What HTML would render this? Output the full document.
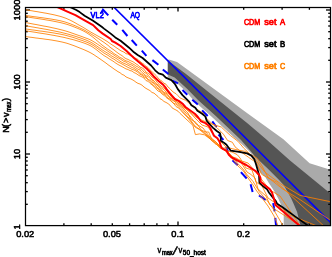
<!DOCTYPE html>
<html><head><meta charset="utf-8"><title>chart</title>
<style>html,body{margin:0;padding:0;background:#fff;font-family:"Liberation Sans",sans-serif}svg{display:block}</style></head>
<body>
<svg width="332" height="257" viewBox="0 0 332 257" style="display:block;will-change:transform">
<defs><clipPath id="c"><rect x="25.5" y="7.5" width="305.0" height="218.1"/></clipPath></defs>
<rect width="332" height="257" fill="#fff"/>
<g clip-path="url(#c)">
<polygon fill="#aaaaaa" points="167.8,59.8 169.7,59.8 177.0,62.1 186.0,68.4 248.0,113.7 283.4,139.2 309.6,163.3 328.0,168.9 330.5,169.3 330.5,226.0 283.7,226.0 283.7,210.5 279.5,201.5 278.5,199.0 274.0,190.8 269.0,183.2 265.2,176.9 262.0,174.0 259.5,171.5 257.5,168.0 255.5,161.0 252.7,155.1 248.0,150.0 241.4,143.8 233.6,136.9 211.4,116.6 193.6,100.6 186.6,92.0 174.2,80.6 167.8,77.2"/>
<polygon fill="#555555" points="167.8,60.5 186.0,74.1 248.0,123.8 267.0,140.0 290.0,160.5 326.7,190.4 330.5,193.5 330.5,226.0 300.6,226.0 297.1,212.0 293.6,203.8 291.0,198.0 287.1,191.1 283.7,185.1 278.6,179.5 267.1,168.0 255.3,156.8 249.7,150.0 241.0,140.0 215.8,116.0 198.0,100.0 187.3,88.9 174.7,77.5 167.8,74.6"/>
</g>
<g stroke="#000" stroke-width="1.3"><line x1="63.9" y1="225.6" x2="63.9" y2="223.3"/>
<line x1="63.9" y1="7.5" x2="63.9" y2="9.8"/>
<line x1="91.2" y1="225.6" x2="91.2" y2="223.3"/>
<line x1="91.2" y1="7.5" x2="91.2" y2="9.8"/>
<line x1="112.3" y1="225.6" x2="112.3" y2="223.3"/>
<line x1="112.3" y1="7.5" x2="112.3" y2="9.8"/>
<line x1="129.6" y1="225.6" x2="129.6" y2="223.3"/>
<line x1="129.6" y1="7.5" x2="129.6" y2="9.8"/>
<line x1="144.2" y1="225.6" x2="144.2" y2="223.3"/>
<line x1="144.2" y1="7.5" x2="144.2" y2="9.8"/>
<line x1="156.9" y1="225.6" x2="156.9" y2="223.3"/>
<line x1="156.9" y1="7.5" x2="156.9" y2="9.8"/>
<line x1="168.0" y1="225.6" x2="168.0" y2="223.3"/>
<line x1="168.0" y1="7.5" x2="168.0" y2="9.8"/>
<line x1="178.0" y1="225.6" x2="178.0" y2="221.6"/>
<line x1="178.0" y1="7.5" x2="178.0" y2="11.5"/>
<line x1="243.7" y1="225.6" x2="243.7" y2="223.3"/>
<line x1="243.7" y1="7.5" x2="243.7" y2="9.8"/>
<line x1="282.1" y1="225.6" x2="282.1" y2="223.3"/>
<line x1="282.1" y1="7.5" x2="282.1" y2="9.8"/>
<line x1="309.4" y1="225.6" x2="309.4" y2="223.3"/>
<line x1="309.4" y1="7.5" x2="309.4" y2="9.8"/>
<line x1="25.5" y1="204.3" x2="27.8" y2="204.3"/>
<line x1="330.5" y1="204.3" x2="328.2" y2="204.3"/>
<line x1="25.5" y1="191.6" x2="27.8" y2="191.6"/>
<line x1="330.5" y1="191.6" x2="328.2" y2="191.6"/>
<line x1="25.5" y1="182.7" x2="27.8" y2="182.7"/>
<line x1="330.5" y1="182.7" x2="328.2" y2="182.7"/>
<line x1="25.5" y1="175.7" x2="27.8" y2="175.7"/>
<line x1="330.5" y1="175.7" x2="328.2" y2="175.7"/>
<line x1="25.5" y1="170.0" x2="27.8" y2="170.0"/>
<line x1="330.5" y1="170.0" x2="328.2" y2="170.0"/>
<line x1="25.5" y1="165.2" x2="27.8" y2="165.2"/>
<line x1="330.5" y1="165.2" x2="328.2" y2="165.2"/>
<line x1="25.5" y1="161.0" x2="27.8" y2="161.0"/>
<line x1="330.5" y1="161.0" x2="328.2" y2="161.0"/>
<line x1="25.5" y1="157.3" x2="27.8" y2="157.3"/>
<line x1="330.5" y1="157.3" x2="328.2" y2="157.3"/>
<line x1="25.5" y1="154.0" x2="30.0" y2="154.0"/>
<line x1="330.5" y1="154.0" x2="326.0" y2="154.0"/>
<line x1="25.5" y1="132.3" x2="27.8" y2="132.3"/>
<line x1="330.5" y1="132.3" x2="328.2" y2="132.3"/>
<line x1="25.5" y1="119.6" x2="27.8" y2="119.6"/>
<line x1="330.5" y1="119.6" x2="328.2" y2="119.6"/>
<line x1="25.5" y1="110.7" x2="27.8" y2="110.7"/>
<line x1="330.5" y1="110.7" x2="328.2" y2="110.7"/>
<line x1="25.5" y1="103.7" x2="27.8" y2="103.7"/>
<line x1="330.5" y1="103.7" x2="328.2" y2="103.7"/>
<line x1="25.5" y1="98.0" x2="27.8" y2="98.0"/>
<line x1="330.5" y1="98.0" x2="328.2" y2="98.0"/>
<line x1="25.5" y1="93.2" x2="27.8" y2="93.2"/>
<line x1="330.5" y1="93.2" x2="328.2" y2="93.2"/>
<line x1="25.5" y1="89.0" x2="27.8" y2="89.0"/>
<line x1="330.5" y1="89.0" x2="328.2" y2="89.0"/>
<line x1="25.5" y1="85.3" x2="27.8" y2="85.3"/>
<line x1="330.5" y1="85.3" x2="328.2" y2="85.3"/>
<line x1="25.5" y1="82.0" x2="30.0" y2="82.0"/>
<line x1="330.5" y1="82.0" x2="326.0" y2="82.0"/>
<line x1="25.5" y1="60.3" x2="27.8" y2="60.3"/>
<line x1="330.5" y1="60.3" x2="328.2" y2="60.3"/>
<line x1="25.5" y1="47.6" x2="27.8" y2="47.6"/>
<line x1="330.5" y1="47.6" x2="328.2" y2="47.6"/>
<line x1="25.5" y1="38.7" x2="27.8" y2="38.7"/>
<line x1="330.5" y1="38.7" x2="328.2" y2="38.7"/>
<line x1="25.5" y1="31.7" x2="27.8" y2="31.7"/>
<line x1="330.5" y1="31.7" x2="328.2" y2="31.7"/>
<line x1="25.5" y1="26.0" x2="27.8" y2="26.0"/>
<line x1="330.5" y1="26.0" x2="328.2" y2="26.0"/>
<line x1="25.5" y1="21.2" x2="27.8" y2="21.2"/>
<line x1="330.5" y1="21.2" x2="328.2" y2="21.2"/>
<line x1="25.5" y1="17.0" x2="27.8" y2="17.0"/>
<line x1="330.5" y1="17.0" x2="328.2" y2="17.0"/>
<line x1="25.5" y1="13.3" x2="27.8" y2="13.3"/>
<line x1="330.5" y1="13.3" x2="328.2" y2="13.3"/>
<line x1="25.5" y1="10.0" x2="30.0" y2="10.0"/>
<line x1="330.5" y1="10.0" x2="326.0" y2="10.0"/></g>
<g clip-path="url(#c)">
<g stroke="#0000ff" stroke-width="2" stroke-linecap="butt">
<polyline fill="none" stroke-linejoin="miter" points="101,13.3 103,9.7 108.3,15.4"/>
<line x1="112.2" y1="19.7" x2="117.2" y2="24.8"/>
<line x1="122.3" y1="29.8" x2="127.4" y2="36.0"/>
<line x1="131.7" y1="40.0" x2="136.8" y2="45.6"/>
<line x1="141.8" y1="50.6" x2="146.4" y2="55.9"/>
<line x1="152.4" y1="60.1" x2="158.4" y2="64.8"/>
<line x1="162.8" y1="69.4" x2="168.4" y2="74.1"/>
<line x1="172.3" y1="80.6" x2="178.0" y2="83.3"/>
<line x1="182.5" y1="90.0" x2="187.3" y2="94.7"/>
<line x1="192.3" y1="99.7" x2="197.8" y2="104.4"/>
<line x1="202.1" y1="110.4" x2="207.7" y2="116.0"/>
<line x1="212.3" y1="121.4" x2="216.5" y2="127.0"/>
<line x1="218.5" y1="134.5" x2="223.4" y2="140.0"/>
<line x1="226.2" y1="147.0" x2="228.0" y2="151.5"/>
<line x1="232.5" y1="160.3" x2="237.8" y2="165.3"/>
<line x1="240.9" y1="172.1" x2="246.7" y2="178.5"/>
<line x1="250.6" y1="184.3" x2="252.6" y2="191.9"/>
<line x1="259.0" y1="195.4" x2="265.7" y2="200.0"/>
<line x1="273.2" y1="203.2" x2="274.6" y2="211.4"/>
<line x1="275.3" y1="217.8" x2="276.1" y2="226.5"/>
</g>
<line x1="110.0" y1="3.3" x2="332.0" y2="223.8" stroke="#0000ff" stroke-width="1.6"/>
<polyline fill="none" stroke="#ff8000" stroke-width="0.85" stroke-linejoin="round" points="26.0,9.7 28.0,10.1 30.0,10.5 32.0,10.8 34.0,11.2 36.0,11.5 38.0,11.8 40.0,12.2 42.0,12.5 44.0,12.9 46.0,13.2 48.0,13.6 50.0,14.0 52.0,14.4 54.0,14.8 56.0,15.3 58.0,15.8 60.0,16.3 62.0,16.9 64.0,17.6 66.0,18.3 68.0,19.2 70.0,20.1 72.0,21.1 74.0,22.2 76.0,23.3 78.0,24.5 80.0,25.6 82.0,26.7 84.0,27.9 86.0,29.1 88.0,30.4 90.0,31.6 92.0,32.8 94.0,33.9 96.0,35.0 98.0,36.1 100.0,37.2 102.0,38.3 104.0,39.5 106.0,40.7 108.0,42.0 110.0,43.5 112.0,44.8 114.0,46.0 116.0,47.5 118.0,48.8 120.0,50.2 122.0,51.3 124.0,52.1 126.0,53.7 128.0,54.0 130.0,55.3 132.0,56.7 134.0,57.2 136.0,58.6 138.0,59.4 140.0,61.4 142.0,63.0 144.0,64.3 146.0,66.4 148.0,67.5 150.0,69.9 152.0,71.7 154.0,73.6 156.0,75.4 158.0,77.9 160.0,80.0 162.0,81.2 164.0,83.3 166.0,84.2 168.0,87.0 170.0,88.7 172.0,91.0 174.0,92.6 176.0,93.7 178.0,95.7 180.0,97.9 182.0,98.8 185.9,100.4 190.0,104.0 192.9,105.6 198.0,110.0 203.1,113.0 206.5,118.3 211.0,122.7 217.0,127.8 223.4,134.2 227.6,140.5 232.4,142.3 235.0,146.8 241.7,152.3 248.7,157.4 253.5,160.7 256.0,162.0 261.6,174.3 272.0,180.0 276.3,182.0 300.0,204.0 323.4,225.6"/>
<polyline fill="none" stroke="#ff8000" stroke-width="0.85" stroke-linejoin="round" points="26.0,15.5 28.0,15.8 30.0,16.1 32.0,16.4 34.0,16.7 36.0,16.9 38.0,17.2 40.0,17.5 42.0,17.7 44.0,18.0 46.0,18.3 48.0,18.6 50.0,18.9 52.0,19.2 54.0,19.6 56.0,19.9 58.0,20.3 60.0,20.7 62.0,21.2 64.0,21.7 66.0,22.3 68.0,23.0 70.0,23.7 72.0,24.5 74.0,25.3 76.0,26.1 78.0,27.0 80.0,28.0 82.0,28.9 84.0,29.9 86.0,31.0 88.0,32.2 90.0,33.4 92.0,34.6 94.0,35.9 96.0,37.1 98.0,38.4 100.0,39.7 102.0,41.1 104.0,42.4 106.0,43.9 108.0,45.3 110.0,47.2 112.0,48.6 114.0,50.0 116.0,51.6 118.0,53.1 120.0,54.5 122.0,55.6 124.0,57.4 126.0,58.7 128.0,59.4 130.0,60.5 132.0,61.3 134.0,62.4 136.0,63.9 138.0,65.1 140.0,67.1 142.0,67.8 144.0,69.2 146.0,72.1 148.0,73.3 150.0,74.7 152.0,77.1 154.0,78.3 156.0,80.9 158.0,83.4 160.0,85.2 162.0,86.8 164.0,88.0 166.0,90.0 168.0,91.5 170.0,94.2 172.0,95.7 174.0,97.9 176.0,99.1 178.0,100.8 180.0,103.5 182.0,105.6 187.1,109.8 190.0,112.0 196.0,117.0 201.0,119.8 204.0,121.0 207.2,122.6 212.0,124.0 218.0,126.0 221.3,127.0 225.5,131.0 230.4,135.5 238.2,141.5 243.5,147.9 249.6,153.8 257.2,158.4 262.0,166.0 268.0,177.4 282.7,189.0 300.0,199.6 330.0,220.0"/>
<polyline fill="none" stroke="#ff8000" stroke-width="0.85" stroke-linejoin="round" points="26.0,16.7 28.0,17.0 30.0,17.4 32.0,17.7 34.0,18.0 36.0,18.3 38.0,18.6 40.0,18.9 42.0,19.2 44.0,19.5 46.0,19.9 48.0,20.2 50.0,20.5 52.0,20.9 54.0,21.3 56.0,21.7 58.0,22.1 60.0,22.5 62.0,23.0 64.0,23.5 66.0,24.1 68.0,24.7 70.0,25.4 72.0,26.1 74.0,26.9 76.0,27.7 78.0,28.5 80.0,29.4 82.0,30.3 84.0,31.3 86.0,32.4 88.0,33.7 90.0,35.0 92.0,36.5 94.0,38.1 96.0,39.8 98.0,41.5 100.0,43.3 102.0,45.0 104.0,46.5 106.0,47.9 108.0,49.4 110.0,50.6 112.0,51.9 114.0,53.6 116.0,54.8 118.0,56.0 120.0,57.5 122.0,58.3 124.0,59.8 126.0,60.9 128.0,61.4 130.0,62.5 132.0,63.6 134.0,64.6 136.0,66.1 138.0,67.0 140.0,68.5 142.0,69.6 144.0,72.2 146.0,73.2 148.0,75.1 150.0,77.2 152.0,79.6 154.0,80.8 156.0,83.5 158.0,84.8 160.0,86.7 162.0,88.5 164.0,89.6 166.0,92.0 168.0,93.3 170.0,94.8 172.0,97.7 174.0,98.6 176.0,100.7 178.0,102.8 180.0,104.3 182.0,105.8 189.0,111.5 196.0,119.0 202.0,125.0 208.0,127.0 213.0,134.0 220.0,141.0 226.0,147.0 232.1,148.7 238.0,150.0 245.4,151.4 251.0,155.3 256.5,160.8 261.6,168.0 264.8,172.0 270.0,176.0 280.6,183.8 300.0,195.4 330.0,201.6"/>
<polyline fill="none" stroke="#ff8000" stroke-width="0.85" stroke-linejoin="round" points="26.0,22.6 28.0,23.0 30.0,23.4 32.0,23.8 34.0,24.2 36.0,24.5 38.0,24.9 40.0,25.3 42.0,25.7 44.0,26.1 46.0,26.4 48.0,26.8 50.0,27.2 52.0,27.7 54.0,28.1 56.0,28.5 58.0,29.0 60.0,29.5 62.0,30.0 64.0,30.5 66.0,31.1 68.0,31.7 70.0,32.4 72.0,33.1 74.0,33.8 76.0,34.5 78.0,35.2 80.0,35.9 82.0,36.6 84.0,37.4 86.0,38.1 88.0,38.8 90.0,39.7 92.0,40.7 94.0,41.9 96.0,43.1 98.0,44.5 100.0,45.8 102.0,47.3 104.0,48.5 106.0,49.8 108.0,51.3 110.0,52.6 112.0,53.7 114.0,55.1 116.0,56.5 118.0,57.7 120.0,58.8 122.0,60.1 124.0,61.5 126.0,62.0 128.0,63.5 130.0,64.5 132.0,65.2 134.0,66.6 136.0,68.0 138.0,69.2 140.0,70.0 142.0,72.5 144.0,73.9 146.0,75.8 148.0,76.5 150.0,78.5 152.0,80.1 154.0,83.0 156.0,84.2 158.0,85.9 160.0,88.1 162.0,90.6 164.0,92.2 166.0,93.1 168.0,94.7 170.0,97.5 172.0,98.7 174.0,100.6 176.0,101.5 178.0,103.1 180.0,105.7 182.0,107.1 188.0,113.0 190.7,119.2 196.0,122.5 201.3,130.0 205.4,132.0 208.7,132.0 211.8,139.4 218.0,146.0 220.8,148.1 226.0,148.0 229.7,155.2 236.0,160.0 240.0,161.0 247.0,172.0 250.9,174.5 255.0,178.0 258.0,189.0 266.0,196.0 270.0,205.0 276.0,210.0 300.0,225.6"/>
<polyline fill="none" stroke="#ff8000" stroke-width="0.85" stroke-linejoin="round" points="26.0,25.8 28.0,26.2 30.0,26.5 32.0,26.9 34.0,27.2 36.0,27.6 38.0,27.9 40.0,28.3 42.0,28.6 44.0,29.0 46.0,29.3 48.0,29.7 50.0,30.1 52.0,30.5 54.0,30.9 56.0,31.3 58.0,31.7 60.0,32.1 62.0,32.6 64.0,33.1 66.0,33.6 68.0,34.1 70.0,34.7 72.0,35.3 74.0,35.9 76.0,36.5 78.0,37.2 80.0,37.8 82.0,38.5 84.0,39.3 86.0,40.0 88.0,40.9 90.0,41.8 92.0,42.9 94.0,44.1 96.0,45.5 98.0,46.9 100.0,48.3 102.0,49.7 104.0,51.0 106.0,52.2 108.0,53.4 110.0,54.7 112.0,56.2 114.0,57.2 116.0,58.4 118.0,59.6 120.0,61.2 122.0,62.4 124.0,63.4 126.0,64.2 128.0,65.2 130.0,66.3 132.0,67.5 134.0,68.3 136.0,69.8 138.0,70.8 140.0,72.9 142.0,74.4 144.0,75.4 146.0,76.7 148.0,79.4 150.0,80.3 152.0,82.2 154.0,83.5 156.0,85.9 158.0,87.9 160.0,89.8 162.0,91.1 164.0,93.2 166.0,94.2 168.0,96.3 170.0,97.8 172.0,99.9 174.0,101.1 176.0,102.7 178.0,104.8 180.0,106.4 182.0,108.6 186.1,113.1 190.0,116.0 196.0,124.0 203.0,128.0 209.0,136.0 216.0,142.0 222.0,149.0 227.5,151.2 232.0,152.0 237.1,154.6 240.0,158.0 246.0,168.0 252.0,170.0 256.0,182.0 262.0,186.0 268.0,198.0 274.0,202.0 290.0,215.0 316.0,225.6"/>
<polyline fill="none" stroke="#ff8000" stroke-width="0.85" stroke-linejoin="round" points="26.0,29.0 28.0,29.3 30.0,29.6 32.0,29.9 34.0,30.1 36.0,30.4 38.0,30.7 40.0,31.0 42.0,31.2 44.0,31.5 46.0,31.8 48.0,32.1 50.0,32.4 52.0,32.7 54.0,33.0 56.0,33.4 58.0,33.7 60.0,34.1 62.0,34.5 64.0,34.9 66.0,35.4 68.0,36.0 70.0,36.5 72.0,37.1 74.0,37.7 76.0,38.4 78.0,39.1 80.0,39.8 82.0,40.4 84.0,41.2 86.0,41.9 88.0,42.7 90.0,43.6 92.0,44.7 94.0,45.9 96.0,47.3 98.0,48.8 100.0,50.2 102.0,51.6 104.0,53.1 106.0,54.2 108.0,55.4 110.0,56.7 112.0,58.2 114.0,59.2 116.0,60.6 118.0,62.0 120.0,62.9 122.0,64.0 124.0,65.1 126.0,66.3 128.0,67.4 130.0,68.3 132.0,69.4 134.0,70.0 136.0,71.1 138.0,72.4 140.0,74.3 142.0,75.2 144.0,77.0 146.0,77.9 148.0,79.6 150.0,81.6 152.0,83.9 154.0,85.8 156.0,87.5 158.0,88.8 160.0,90.9 162.0,92.6 164.0,94.3 166.0,95.5 168.0,98.3 170.0,99.0 172.0,101.9 174.0,103.5 176.0,104.0 178.0,106.3 180.0,108.5 182.0,110.5 189.0,118.0 195.0,126.0 202.0,131.0 205.8,133.8 210.0,138.0 217.0,143.0 224.0,150.0 228.0,152.0 231.1,156.4 236.0,158.0 241.1,160.8 248.0,163.0 254.0,170.0 262.0,180.0 270.0,190.0 280.0,196.0 300.0,225.6"/>
<polyline fill="none" stroke="#ff8000" stroke-width="0.85" stroke-linejoin="round" points="26.0,30.8 28.0,31.1 30.0,31.5 32.0,31.8 34.0,32.1 36.0,32.4 38.0,32.8 40.0,33.1 42.0,33.4 44.0,33.7 46.0,34.0 48.0,34.4 50.0,34.7 52.0,35.1 54.0,35.4 56.0,35.8 58.0,36.2 60.0,36.6 62.0,37.0 64.0,37.4 66.0,37.9 68.0,38.4 70.0,38.9 72.0,39.4 74.0,39.9 76.0,40.5 78.0,41.1 80.0,41.7 82.0,42.4 84.0,43.0 86.0,43.8 88.0,44.6 90.0,45.5 92.0,46.6 94.0,48.0 96.0,49.4 98.0,51.0 100.0,52.6 102.0,54.1 104.0,55.6 106.0,56.7 108.0,58.0 110.0,59.4 112.0,60.5 114.0,61.8 116.0,63.3 118.0,64.5 120.0,65.6 122.0,66.6 124.0,67.8 126.0,68.9 128.0,69.5 130.0,70.6 132.0,71.0 134.0,72.6 136.0,73.4 138.0,74.9 140.0,76.0 142.0,76.9 144.0,78.0 146.0,80.6 148.0,81.2 150.0,83.3 152.0,84.9 154.0,86.5 156.0,88.9 158.0,91.0 160.0,91.8 162.0,94.0 164.0,95.2 166.0,97.3 168.0,98.8 170.0,100.2 172.0,102.0 174.0,103.8 176.0,106.5 178.0,107.7 180.0,109.1 182.0,111.8 188.0,118.0 195.0,127.0 200.0,130.0 206.0,135.0 212.0,141.0 217.5,144.3 220.0,148.0 222.9,149.0 228.0,152.0 234.0,158.0 237.3,163.0 243.0,169.0 246.8,174.4 253.0,181.5 259.5,192.0 267.0,200.5 272.0,207.0 283.0,225.6"/>
<polyline fill="none" stroke="#ff8000" stroke-width="0.85" stroke-linejoin="round" points="26.0,36.6 28.0,36.9 30.0,37.2 32.0,37.4 34.0,37.7 36.0,38.0 38.0,38.2 40.0,38.5 42.0,38.7 44.0,39.0 46.0,39.3 48.0,39.5 50.0,39.8 52.0,40.1 54.0,40.5 56.0,40.8 58.0,41.2 60.0,41.6 62.0,42.0 64.0,42.5 66.0,43.0 68.0,43.6 70.0,44.3 72.0,45.0 74.0,45.7 76.0,46.5 78.0,47.3 80.0,48.1 82.0,48.9 84.0,49.7 86.0,50.6 88.0,51.5 90.0,52.5 92.0,53.6 94.0,54.8 96.0,56.2 98.0,57.5 100.0,58.9 102.0,60.3 104.0,61.7 106.0,63.1 108.0,64.7 110.0,66.1 112.0,67.5 114.0,69.0 116.0,70.3 118.0,71.7 120.0,72.7 122.0,74.4 124.0,75.2 126.0,76.9 128.0,77.8 130.0,78.6 132.0,79.5 134.0,80.7 136.0,82.2 138.0,83.4 140.0,84.0 142.0,85.2 144.0,87.0 146.0,88.4 148.0,89.5 150.0,90.6 152.0,92.5 154.0,93.1 156.0,94.9 158.0,96.5 160.0,98.7 162.0,99.7 164.0,101.5 166.0,102.4 168.0,103.6 170.0,105.2 172.0,107.8 174.0,109.0 176.0,110.0 178.0,111.2 180.0,113.4 182.0,115.2 186.0,119.0 192.9,125.3 195.4,134.6 199.7,133.9 204.4,134.8 210.8,139.4 215.5,144.0 219.2,145.8 222.6,147.9 227.6,153.0 230.0,155.0 233.5,160.2 238.0,166.0 243.5,171.0 248.0,178.0 252.9,184.8 256.0,190.0 262.0,198.0 268.0,206.0 274.0,216.0 278.0,225.6"/>
<polyline fill="none" stroke="#000" stroke-width="1.75" stroke-linejoin="round" points="69.0,6.8 72.0,8.0 76.3,10.0 79.7,12.1 84.6,15.7 93.1,20.8 101.7,26.8 104.0,28.6 110.7,33.6 115.3,37.4 120.6,40.8 129.1,47.7 134.0,52.3 137.7,55.0 142.6,58.0 151.1,65.5 155.1,70.3 158.6,73.3 162.8,74.6 165.8,77.6 171.4,80.1 174.8,83.8 177.8,89.1 182.5,95.1 186.8,99.4 189.3,101.9 191.4,105.3 195.3,107.8 197.4,110.8 202.1,113.8 205.3,116.4 206.7,120.6 209.7,124.4 213.1,127.8 216.8,131.0 220.0,133.2 220.8,136.6 220.8,140.8 224.3,143.0 226.5,144.8 228.8,148.0 230.6,150.6 239.1,151.8 247.1,153.4 251.4,155.6 254.4,159.4 256.1,164.6 257.6,169.7 259.0,174.8 259.4,182.6 262.8,186.0 267.1,189.4 269.1,192.8 272.6,197.1 276.0,201.4 277.2,203.8 282.5,207.3 295.3,216.6 308.1,225.6 310.0,227.0"/>
<polyline fill="none" stroke="#ff0000" stroke-width="2.0" stroke-linejoin="round" points="56.0,6.2 57.4,7.0 66.8,11.3 75.4,15.2 84.6,20.4 93.1,25.1 98.3,30.2 102.7,33.6 110.7,39.0 112.0,41.0 115.3,42.7 120.6,46.0 126.6,51.1 131.3,55.4 134.0,58.0 140.0,63.1 146.8,68.7 150.0,72.0 154.3,77.1 158.6,81.0 162.8,84.4 165.4,87.4 167.1,90.0 171.4,95.1 174.8,99.0 179.1,101.1 183.0,104.1 185.4,107.0 190.6,110.8 194.8,113.8 196.5,115.5 198.6,118.0 201.1,121.4 205.4,123.1 208.8,125.7 210.5,128.5 212.3,132.3 214.0,135.7 217.4,138.3 219.6,141.7 220.8,146.0 222.0,148.4 226.3,150.6 228.8,154.8 231.4,157.4 236.6,160.0 242.0,162.8 246.3,165.0 251.7,168.5 256.0,171.4 259.0,174.8 260.3,177.4 260.7,181.7 263.7,184.3 268.4,188.1 270.1,189.6 272.1,192.8 273.4,197.1 274.7,201.4 275.5,205.0 283.7,212.0 299.4,225.6 301.0,227.0"/>
</g>
<rect x="25.5" y="7.5" width="305.0" height="218.1" fill="none" stroke="#000" stroke-width="1.25"/>
<text font-family="Liberation Sans, sans-serif" font-size="9" fill="#ff0000" stroke="#ff0000" stroke-width="0.7" stroke-linejoin="round" y="25.4"><tspan x="243.9" textLength="16.4" lengthAdjust="spacingAndGlyphs">CDM</tspan> <tspan x="264.2" textLength="12.3" lengthAdjust="spacingAndGlyphs">set</tspan> <tspan x="279.9" textLength="5.2" lengthAdjust="spacingAndGlyphs">A</tspan></text>
<text font-family="Liberation Sans, sans-serif" font-size="9" fill="#000" stroke="#000" stroke-width="0.7" stroke-linejoin="round" y="46.9"><tspan x="243.9" textLength="16.4" lengthAdjust="spacingAndGlyphs">CDM</tspan> <tspan x="264.2" textLength="12.3" lengthAdjust="spacingAndGlyphs">set</tspan> <tspan x="279.9" textLength="5.2" lengthAdjust="spacingAndGlyphs">B</tspan></text>
<text font-family="Liberation Sans, sans-serif" font-size="9" fill="#ff8000" stroke="#ff8000" stroke-width="0.7" stroke-linejoin="round" y="68.6"><tspan x="243.9" textLength="16.4" lengthAdjust="spacingAndGlyphs">CDM</tspan> <tspan x="264.2" textLength="12.3" lengthAdjust="spacingAndGlyphs">set</tspan> <tspan x="279.9" textLength="5.2" lengthAdjust="spacingAndGlyphs">C</tspan></text>
<g font-family="Liberation Sans, sans-serif" font-size="8.9" fill="#0000ff" stroke="#0000ff" stroke-width="0.75" stroke-linejoin="round"><text x="90.5" y="17.6" textLength="13.3" lengthAdjust="spacingAndGlyphs">VL2</text><text x="130.4" y="17.7" textLength="9.6" lengthAdjust="spacingAndGlyphs">AQ</text></g>
<g font-family="Liberation Sans, sans-serif" fill="#000" stroke="#000" stroke-width="0.55" stroke-linejoin="round">
<text x="25.2" y="236.5" font-size="9.3" text-anchor="middle">0.02</text>
<text x="112.0" y="236.5" font-size="9.3" text-anchor="middle">0.05</text>
<text x="177.7" y="236.5" font-size="9.3" text-anchor="middle">0.1</text>
<text x="243.4" y="236.5" font-size="9.3" text-anchor="middle">0.2</text>
<text transform="translate(20.0,226.9) rotate(-90)" font-size="9.4" text-anchor="middle">1</text>
<text transform="translate(20.0,154.0) rotate(-90)" font-size="9.4" text-anchor="middle">10</text>
<text transform="translate(20.0,82.0) rotate(-90)" font-size="9.4" text-anchor="middle">100</text>
<text transform="translate(20.0,10.0) rotate(-90)" font-size="9.4" text-anchor="middle">1000</text>
<text transform="translate(9.2,132.7) rotate(-90)" font-size="9.2"><tspan x="0 5.6 9.8 15.8" y="0">N(&gt;v</tspan><tspan font-size="6.4" x="21" y="2.2" textLength="10.3" lengthAdjust="spacingAndGlyphs">max</tspan><tspan x="31.6" y="0">)</tspan></text>
<text font-size="9.2" y="252.5"><tspan x="157.6" textLength="3.8" lengthAdjust="spacingAndGlyphs">v</tspan><tspan x="161.9" y="255.2" font-size="6.4" textLength="10.8" lengthAdjust="spacingAndGlyphs">max</tspan><tspan x="172.4" y="254.5" font-size="12" rotate="13">/</tspan><tspan x="178.6" y="252.5" textLength="3.8" lengthAdjust="spacingAndGlyphs">v</tspan><tspan x="182.8" y="255.3" font-size="6.4" textLength="23" lengthAdjust="spacingAndGlyphs">50_host</tspan></text>
</g>
</svg>
</body></html>
